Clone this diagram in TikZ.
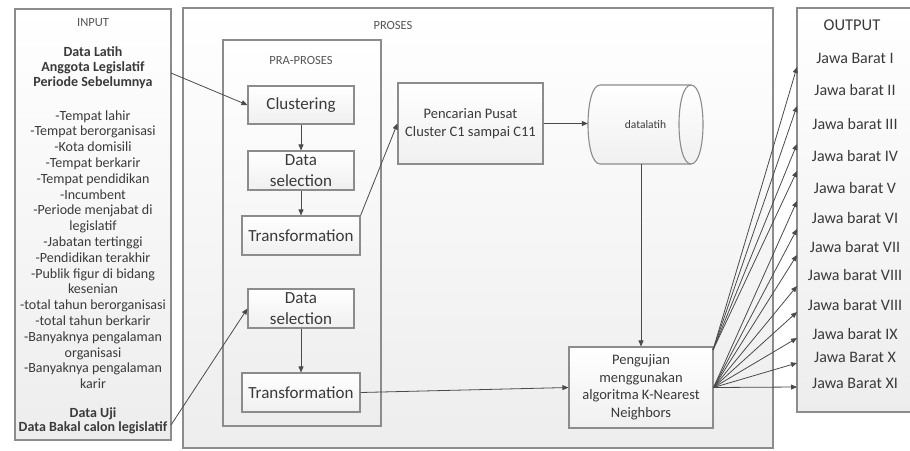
\documentclass[tikz,border=0pt]{standalone}
\usepackage{fontspec}
\setmainfont{Carlito}
\usetikzlibrary{arrows.meta,calc}
\definecolor{txt}{HTML}{3A3A3A}
\definecolor{lbl}{HTML}{555555}
\definecolor{edge}{HTML}{8C8C8C}
\definecolor{arr}{HTML}{4A4A4A}
\begin{document}
\begin{tikzpicture}[x=1pt,y=-1pt,
  frame/.style={draw=edge,line width=1.1pt,top color=white,bottom color=black!7,inner sep=0pt,rectangle},
  box/.style={draw=edge,line width=1.1pt,top color=white,bottom color=black!6,inner sep=0pt,rectangle,align=center,text=txt,font=\fontsize{17}{20.5}\selectfont},
  mbox/.style={box,font=\fontsize{14.5}{17.5}\selectfont},
  lab/.style={text=lbl,font=\fontsize{12.5}{14}\selectfont,inner sep=0pt},
  itxt/.style={text=txt,align=center,inner sep=0pt,font=\fontsize{14}{15.8}\selectfont},
  otxt/.style={text=txt,inner sep=0pt,font=\fontsize{16}{18}\selectfont},
  con/.style={draw=arr,line width=0.8pt,-{Triangle[length=6pt,width=5pt]}},
  cyl/.style={draw=edge,line width=1.1pt}]
\useasboundingbox (0,0) rectangle (910,450);
% frames
\node[frame,minimum width=156pt,minimum height=431pt] (inp) at (93,224.5) {};
\node[frame,minimum width=590pt,minimum height=440pt] (pro) at (478,228) {};
\node[frame,minimum width=120pt,minimum height=404pt] (out) at (857,210) {};
\node[frame,minimum width=158pt,minimum height=386pt] (pra) at (302,233) {};
% frame labels
\node[lab] (linp) at (93,23) {INPUT};
\node[lab] (lpro) at (393,25) {PROSES};
\node[lab] (lpra) at (301,60) {PRA-PROSES};
\node[text=txt,inner sep=0pt,font=\fontsize{16.5}{18}\selectfont] (lout) at (852,25) {OUTPUT};
% input texts
\node[itxt,font=\bfseries\fontsize{14}{15}\selectfont] (dl1) at (93,68) {Data Latih\\Anggota Legislatif\\Periode Sebelumnya};
\node[itxt] (attr) at (93,249.5) {-Tempat lahir\\-Tempat berorganisasi\\-Kota domisili\\-Tempat berkarir\\-Tempat pendidikan\\-Incumbent\\-Periode menjabat di\\legislatif\\-Jabatan tertinggi\\-Pendidikan terakhir\\-Publik figur di bidang\\kesenian\\-total tahun berorganisasi\\-total tahun berkarir\\-Banyaknya pengalaman\\organisasi\\-Banyaknya pengalaman\\karir};
\node[itxt,font=\bfseries\fontsize{14}{14}\selectfont] (du) at (93,421) {Data Uji\\Data Bakal calon legislatif};
% process boxes
\node[box,minimum width=106pt,minimum height=38pt] (clu) at (301,105) {Clustering};
\node[box,minimum width=106pt,minimum height=39pt] (ds1) at (301,170.5) {Data\\selection};
\node[box,minimum width=118pt,minimum height=39pt] (tr1) at (301,235.5) {Transformation};
\node[box,minimum width=106pt,minimum height=39pt] (ds2) at (301,308.5) {Data\\selection};
\node[box,minimum width=118pt,minimum height=39pt] (tr2) at (301,392.5) {Transformation};
\node[mbox,minimum width=145pt,minimum height=81pt] (pc) at (470.5,123.5) {Pencarian Pusat\\Cluster C1 sampai C11};
% storage (horizontal cylinder)
\path[top color=white,bottom color=black!6] (600,85) -- (691,85) .. controls (707,85) and (707,164) .. (691,164) -- (600,164) .. controls (584,164) and (584,85) .. (600,85) -- cycle;
\draw[cyl] (600,85) -- (691,85) .. controls (707,85) and (707,164) .. (691,164) -- (600,164) .. controls (584,164) and (584,85) .. (600,85) -- cycle;
\draw[cyl] (691,85) .. controls (675,85) and (675,164) .. (691,164);
\node[inner sep=0pt,minimum width=115pt,minimum height=79pt,text=txt,font=\fontsize{11.5}{13}\selectfont] (db) at (645.5,124.5) {datalatih};
\node[mbox,minimum width=144pt,minimum height=81pt] (pg) at (641,387.5) {Pengujian\\menggunakan\\algoritma K-Nearest\\Neighbors};
% output texts
\foreach \t/\y [count=\i] in {Jawa Barat I/58,Jawa barat II/90,Jawa barat III/124,Jawa barat IV/156,Jawa barat V/188,Jawa barat VI/218,Jawa barat VII/247,Jawa barat VIII/275,Jawa barat VIII/305,Jawa barat IX/334,Jawa Barat X/357,Jawa Barat XI/383}
  \node[otxt] (ot\i) at (855,\y) {\t};
% connectors
\coordinate (s1) at (171,73);
\coordinate (s2) at (171,425);
\draw[con] (s1) -- (clu.west);
\draw[con] (s2) -- (ds2.west);
\draw[con] (clu) -- (ds1);
\draw[con] (ds1) -- (tr1);
\draw[con] (ds2) -- (tr2);
\draw[con] (tr1.north east) -- (pc.west);
\draw[con] (pc.east) -- (db.west |- pc.east);
\draw[con] (db.south -| pg.north) -- (pg.north);
\draw[con] (tr2.east) -- (pg.west);
\coordinate (pgt) at (713,350);
\foreach \y [count=\i] in {67,106,144,171,201,229,255,286,312,338,363,387} {
  \coordinate (o\i) at (797,\y);
}
\foreach \i in {1,2,3,4} \draw[con] (pgt) -- (o\i);
\foreach \i in {5,...,12} \draw[con] (pg.east) -- (o\i);
\end{tikzpicture}
\end{document}
